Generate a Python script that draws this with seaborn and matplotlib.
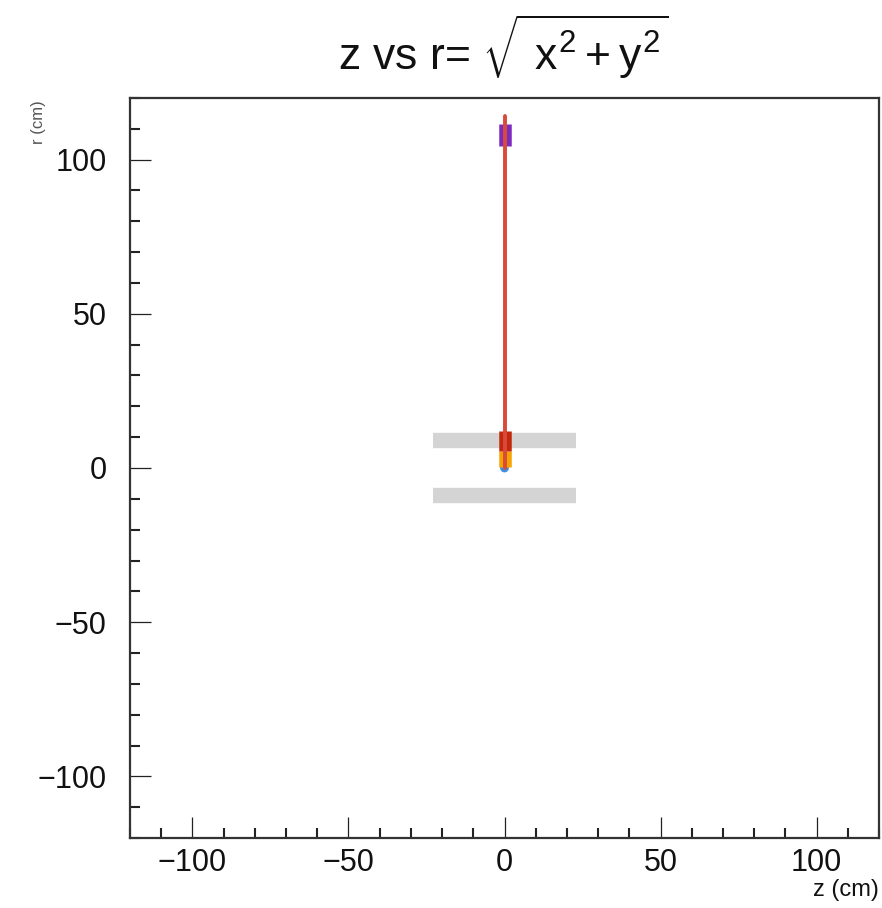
import matplotlib
matplotlib.use("Agg")
import matplotlib.pyplot as plt
from matplotlib.ticker import MultipleLocator
import seaborn as sns
import pandas as pd

# Detector layers (r position, half-length in z)
layer_r = [9.0, -9.0]
layer_halfz = [23.0, 23.0]

# Reconstructed track in the z-r plane
track_z = [0.0, 0.0]
track_r = [0.0, 114.0]

# Hits drawn as vertical extents in r
hit_z = [0.0, 0.0, 0.0]
hit_rlo = [0.3, 5.5, 104.5]
hit_rhi = [5.5, 12.0, 111.5]
hit_colors = ["#f5a300", "#c4280c", "#7b2cbf"]

# Primary vertex
vtx_z = [0.0]
vtx_r = [0.0]

sns.set_style("ticks")
plt.rcParams["font.family"] = ["Liberation Sans", "DejaVu Sans"]
plt.rcParams["mathtext.fontset"] = "custom"
plt.rcParams["mathtext.rm"] = "Liberation Sans"
plt.rcParams["mathtext.it"] = "Liberation Sans"

fig = plt.figure(figsize=(8.82, 9.08), dpi=100)
ax = fig.add_axes([130 / 882, 1 - 838 / 908, 749 / 882, 740 / 908])

# layers
for r, hz in zip(layer_r, layer_halfz):
    ax.hlines([r - 1.2, r + 1.2], -hz, hz, colors="#d4d4d4", lw=6, zorder=1)

# hits
ax.vlines(hit_z, hit_rlo, hit_rhi, colors=hit_colors, lw=9, zorder=3)

# track
track = pd.DataFrame({"z": track_z, "r": track_r})
sns.lineplot(data=track, x="z", y="r", ax=ax, color="#d94a3a", linewidth=2.8,
             estimator=None, sort=False, zorder=4)

# vertex
vtx = pd.DataFrame({"z": vtx_z, "r": vtx_r})
sns.scatterplot(data=vtx, x="z", y="r", ax=ax, color="#3b8ee0", s=40,
                edgecolor="none", zorder=2)

ax.set_xlim(-120, 120)
ax.set_ylim(-120, 120)
ax.xaxis.set_major_locator(MultipleLocator(50))
ax.xaxis.set_minor_locator(MultipleLocator(10))
ax.yaxis.set_major_locator(MultipleLocator(50))
ax.yaxis.set_minor_locator(MultipleLocator(10))
ax.tick_params(which="both", direction="in", bottom=True, left=True,
               top=False, right=False, color="#222222", labelsize=22,
               labelcolor="#111111")
ax.tick_params(which="major", length=15, width=0.9)
ax.tick_params(which="minor", length=7, width=1.5)
ax.tick_params(axis="y", which="major", pad=17)
ax.tick_params(axis="x", which="major", pad=7)

for s in ax.spines.values():
    s.set_color("#333333")
    s.set_linewidth(1.6)

ax.set_xlabel("z (cm)", fontsize=17, loc="right", labelpad=1, color="#111111")
ax.set_ylabel("")
fig.text(38 / 882, 1 - 100 / 908, "r (cm)", rotation=90, fontsize=12,
         color="#555555", ha="center", va="top")

fig.text(503 / 882, 1 - 47 / 908, r"z vs r= $\sqrt{\ x^2 + y^2}$",
         fontsize=32, ha="center", va="center", color="#111111")

fig.savefig("out.png", dpi=100)
